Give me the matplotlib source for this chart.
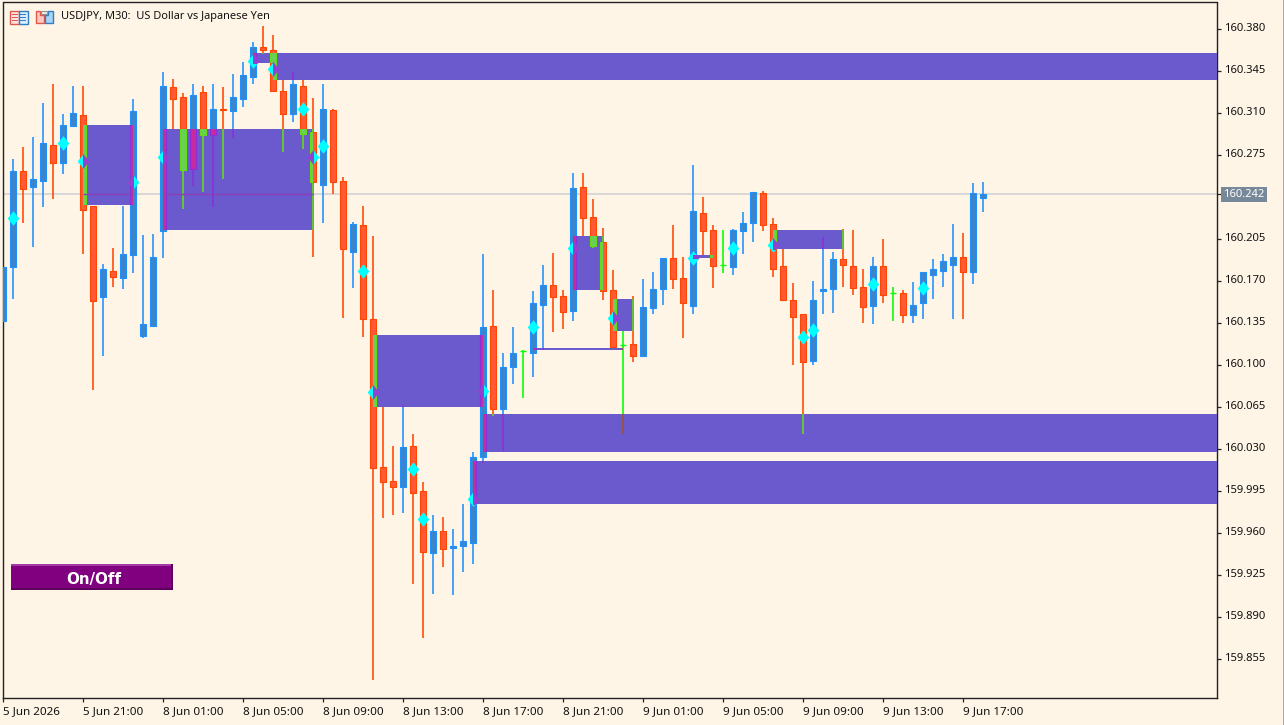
import matplotlib
matplotlib.use("Agg")
import matplotlib.pyplot as plt
from matplotlib.patches import Rectangle, Polygon
from matplotlib.path import Path
from matplotlib.transforms import Affine2D, ScaledTranslation

# M30 candles
opens = [160.136, 160.181, 160.261, 160.248, 160.253, 160.283, 160.268, 160.299, 160.308, 160.232,
         160.156, 160.178, 160.172, 160.191, 160.124, 160.132, 160.211, 160.331, 160.323, 160.263,
         160.327, 160.291, 160.313, 160.311, 160.321, 160.340, 160.365, 160.362, 160.328, 160.309,
         160.332, 160.294, 160.250, 160.312, 160.253, 160.194, 160.216, 160.138, 160.015, 160.003,
         159.998, 160.032, 159.995, 159.943, 159.961, 159.947, 159.949, 159.951, 160.023, 160.132,
         160.063, 160.098, 160.111, 160.110, 160.150, 160.166, 160.157, 160.145, 160.248, 160.223,
         160.202, 160.162, 160.116, 160.117, 160.107, 160.147, 160.163, 160.189, 160.172, 160.149,
         160.226, 160.212, 160.183, 160.181, 160.211, 160.218, 160.243, 160.217, 160.182, 160.154,
         160.142, 160.103, 160.161, 160.163, 160.188, 160.182, 160.165, 160.149, 160.182, 160.160,
         160.160, 160.141, 160.151, 160.175, 160.178, 160.183, 160.190, 160.177, 160.239]
highs = [160.181, 160.271, 160.281, 160.290, 160.318, 160.334, 160.309, 160.332, 160.332, 160.232,
         160.184, 160.197, 160.232, 160.321, 160.208, 160.209, 160.344, 160.338, 160.326, 160.334,
         160.332, 160.334, 160.331, 160.342, 160.352, 160.369, 160.382, 160.375, 160.337, 160.344,
         160.337, 160.322, 160.334, 160.313, 160.256, 160.219, 160.232, 160.207, 160.065, 160.032,
         160.066, 160.042, 160.002, 159.975, 159.973, 159.963, 159.984, 160.027, 160.192, 160.162,
         160.110, 160.131, 160.112, 160.161, 160.183, 160.193, 160.162, 160.260, 160.260, 160.238,
         160.214, 160.179, 160.128, 160.157, 160.171, 160.177, 160.189, 160.216, 160.190, 160.266,
         160.240, 160.216, 160.212, 160.213, 160.227, 160.244, 160.245, 160.222, 160.196, 160.168,
         160.142, 160.170, 160.206, 160.194, 160.213, 160.212, 160.180, 160.190, 160.205, 160.165,
         160.162, 160.169, 160.177, 160.188, 160.192, 160.217, 160.210, 160.251, 160.252]
lows = [160.136, 160.155, 160.218, 160.198, 160.231, 160.238, 160.259, 160.298, 160.192, 160.079,
        160.107, 160.165, 160.163, 160.176, 160.122, 160.131, 160.189, 160.296, 160.230, 160.249,
        160.244, 160.231, 160.255, 160.289, 160.315, 160.334, 160.359, 160.327, 160.277, 160.302,
        160.280, 160.190, 160.218, 160.242, 160.139, 160.164, 160.123, 159.837, 159.972, 159.975,
        159.976, 159.917, 159.872, 159.909, 159.931, 159.908, 159.927, 159.934, 160.018, 160.057,
        160.028, 160.084, 160.072, 160.090, 160.112, 160.127, 160.130, 160.136, 160.207, 160.197,
        160.154, 160.115, 160.042, 160.102, 160.107, 160.142, 160.150, 160.163, 160.122, 160.142,
        160.191, 160.164, 160.176, 160.175, 160.192, 160.202, 160.211, 160.173, 160.154, 160.100,
        160.042, 160.100, 160.142, 160.143, 160.165, 160.158, 160.135, 160.134, 160.151, 160.136,
        160.135, 160.135, 160.138, 160.155, 160.165, 160.138, 160.138, 160.167, 160.227]
closes = [160.181, 160.261, 160.246, 160.255, 160.285, 160.268, 160.300, 160.310, 160.229, 160.153,
          160.180, 160.173, 160.192, 160.311, 160.134, 160.190, 160.332, 160.321, 160.262, 160.325,
          160.291, 160.313, 160.312, 160.323, 160.341, 160.365, 160.362, 160.328, 160.309, 160.334,
          160.292, 160.252, 160.313, 160.252, 160.196, 160.217, 160.138, 160.014, 160.002, 159.998,
          160.031, 159.993, 159.944, 159.961, 159.946, 159.949, 159.953, 160.023, 160.131, 160.063,
          160.098, 160.110, 160.111, 160.151, 160.166, 160.156, 160.144, 160.247, 160.222, 160.199,
          160.161, 160.115, 160.116, 160.107, 160.148, 160.163, 160.189, 160.171, 160.151, 160.228,
          160.211, 160.182, 160.183, 160.212, 160.218, 160.244, 160.216, 160.180, 160.154, 160.140,
          160.102, 160.154, 160.163, 160.188, 160.183, 160.164, 160.148, 160.182, 160.158, 160.160,
          160.141, 160.150, 160.177, 160.180, 160.186, 160.190, 160.177, 160.243, 160.242]

# zones: first bar, last bar, top price, bottom price (last bar past the edge = runs off the chart)
box_start = [8, 16, 25, 27, 37, 48, 47, 57, 61, 53, 69, 77]
box_end = [13, 31, 27, 130, 48, 130, 130, 60, 63, 62, 71, 84]
box_top = [160.300, 160.296, 160.360, 160.360, 160.125, 160.059, 160.020, 160.207, 160.155, 160.1135, 160.1915, 160.212]
box_bottom = [160.233, 160.212, 160.351, 160.337, 160.065, 160.027, 159.984, 160.162, 160.128, 160.112, 160.189, 160.196]

diamond_bars = [1, 6, 8, 13, 16, 25, 27, 30, 31, 32, 36, 37, 41, 42, 47, 48, 53, 57, 61, 69, 73, 77, 80, 81, 87, 92]
diamond_prices = [160.222, 160.285, 160.270, 160.252, 160.273, 160.353, 160.346, 160.313, 160.273, 160.282,
                  160.178, 160.077, 160.013, 159.971, 159.988, 160.078, 160.131, 160.197, 160.139, 160.189,
                  160.197, 160.200, 160.123, 160.129, 160.167, 160.164]

last_price = 160.242
y_ticks = [160.380, 160.345, 160.310, 160.275, 160.205, 160.170, 160.135, 160.100, 160.065, 160.030,
           159.995, 159.960, 159.925, 159.890, 159.855]
x_tick_labels = ["5 Jun 2026", "5 Jun 21:00", "8 Jun 01:00", "8 Jun 05:00", "8 Jun 09:00", "8 Jun 13:00",
                 "8 Jun 17:00", "8 Jun 21:00", "9 Jun 01:00", "9 Jun 05:00", "9 Jun 09:00", "9 Jun 13:00",
                 "9 Jun 17:00"]

BG = "#FFF5E6"
BOX = "#6A5ACD"
NORMAL = dict(up_wick="#1E90FF", up_body="#3D85C6", down_wick="#FF4500", down_body="#FF5A35",
              doji="#00FF00", diamond="#00FFFF")
# colours the candles take inside a zone, the terminal XORs them with the fill
INSIDE = dict(up_wick="#8A30D8", up_body="#C82AA0", down_wick="#66DD11", down_body="#6ACF5A",
              doji="#A0522D", diamond="#9440D0")

plt.rcParams["font.family"] = ["Noto Sans", "DejaVu Sans"]


def draw_candles(ax, bars, colors, clip=None, z=3):
    artists = []
    for i in bars:
        o, c = opens[i], closes[i]
        if c > o:
            wick, body = colors["up_wick"], colors["up_body"]
        elif c < o:
            wick, body = colors["down_wick"], colors["down_body"]
        else:
            wick, body = colors["doji"], None
        artists.append(ax.vlines(i, lows[i], highs[i], color=wick, lw=1.15, zorder=z))
        if body is None:
            artists.append(ax.hlines(o, i - 0.3, i + 0.3, color=wick, lw=1.0, zorder=z))
        else:
            artists += ax.bar(i, max(abs(c - o), 0.0008), bottom=min(o, c), width=0.62, color=body,
                              edgecolor=wick, lw=0.8, zorder=z).patches
    if clip is not None:
        for a in artists:
            a.set_clip_path(clip)


fig = plt.figure(figsize=(12.84, 7.25), dpi=100, facecolor=BG)
ax = fig.add_axes([2.5 / 1284, (725 - 698) / 725, (1217 - 2.5) / 1284, (698 - 2.5) / 725], facecolor=BG)
ax.set_xlim(-0.07, 121.38)
ax.set_ylim(159.8221, 160.4017)

ax.axhline(last_price, color="#D3D3D3", lw=1.2, zorder=1)

draw_candles(ax, range(len(opens)), NORMAL)

diamond = Path([(0, 1), (0.8, 0), (0, -1), (-0.8, 0), (0, 1)], closed=True)
ax.plot(diamond_bars, diamond_prices, ls="none", marker=diamond, ms=10.5, mfc=NORMAL["diamond"], mec="none", zorder=4)

for s, e, top, bottom in zip(box_start, box_end, box_top, box_bottom):
    rect = Rectangle((s, bottom), e - s, top - bottom, fc=BOX, ec="none", zorder=5)
    ax.add_patch(rect)
    draw_candles(ax, range(s, min(e, len(opens) - 1) + 1), INSIDE, clip=rect, z=6)
    marks, = ax.plot(diamond_bars, diamond_prices, ls="none", marker=diamond, ms=10.5,
                     mfc=INSIDE["diamond"], mec="none", zorder=7)
    marks.set_clip_path(rect)
    if bottom <= last_price <= top:
        ax.hlines(last_price, s, e, color="#8A3FB8", lw=1.0, zorder=6)

ax.set_xticks(range(0, 8 * len(x_tick_labels), 8))
ax.set_xticklabels(x_tick_labels, ha="left", fontsize=8.4, color="#111111")
ax.yaxis.tick_right()
ax.set_yticks(y_ticks + [last_price])
ax.set_yticklabels([f"{v:.3f}" for v in y_ticks] + [""], fontsize=8.1, color="#111111")
ax.tick_params(axis="both", length=3.2, width=0.9, color="#222222")
ax.tick_params(axis="x", pad=2.3)
ax.tick_params(axis="y", pad=2.2)
for spine in ax.spines.values():
    spine.set_color("#222222")
    spine.set_linewidth(1.0)

# the y labels of the font sit a little low against their ticks
nudge = ScaledTranslation(0, 0.9 / 72, fig.dpi_scale_trans)
for label in ax.get_yticklabels():
    label.set_transform(label.get_transform() + nudge)

ax.annotate(f"{last_price:.3f}", xy=(1, last_price), xycoords=ax.get_yaxis_transform(), xytext=(27, 0),
            textcoords="offset pixels", va="center", ha="center", fontsize=8.1, color="white",
            bbox=dict(boxstyle="square,pad=0.17", fc="#778899", ec="none"), annotation_clip=False)

# everything that is not on the price scale is placed in screen pixels
px = Affine2D().scale(1 / 1284, -1 / 725).translate(0, 1) + fig.transFigure


def pixel_rect(x, y, w, h, fc="none", ec="none", lw=0.0):
    fig.add_artist(Rectangle((x, y), w, h, fc=fc, ec=ec, lw=lw, transform=px))


pixel_rect(1283, 0, 1, 725, fc="#A8A8A8")

# chart window icons
pixel_rect(9.5, 10.5, 9, 13, fc="#FBE3DF", ec="#E2574C", lw=1.0)
pixel_rect(18.5, 10.5, 9, 13, fc="#DCEEFB", ec="#2F7FC1", lw=1.0)
for row in (14, 17, 20):
    pixel_rect(11.5, row, 6, 1.3, fc="#E2574C")
    pixel_rect(20, row, 6, 1.3, fc="#2F7FC1")

fig.add_artist(Polygon([(36, 11), (40, 11), (40, 15), (44, 15), (44, 23), (36, 23)], closed=True, fc="#FFC9C2",
                       ec="#E2574C", lw=1.0, transform=px))
fig.add_artist(Polygon([(45, 15), (48, 15), (48, 11), (53, 11), (53, 23), (45, 23)], closed=True, fc="#A9D4F5",
                       ec="#2F7FC1", lw=1.0, transform=px))
pixel_rect(41, 10.5, 6, 3.5, fc="#F0F0F0", ec="#909090", lw=0.8)

fig.text(61, 17, "USDJPY, M30:  US Dollar vs Japanese Yen", transform=px, va="center", ha="left",
         fontsize=7.95, color="#111111")

# on/off button
pixel_rect(10.5, 564.5, 162, 25.5, fc="#800080")
pixel_rect(10.5, 564.5, 162, 1.5, fc="#A23AA2")
pixel_rect(10.5, 588.5, 162, 1.5, fc="#5C005C")
pixel_rect(171, 564.5, 1.5, 25.5, fc="#5C005C")
fig.text(94, 580, "On/Off", transform=px, va="center", ha="center", fontsize=10.9,
         fontweight="bold", family="DejaVu Sans", color="white")

fig.savefig("out.png", dpi=100, facecolor=BG)
